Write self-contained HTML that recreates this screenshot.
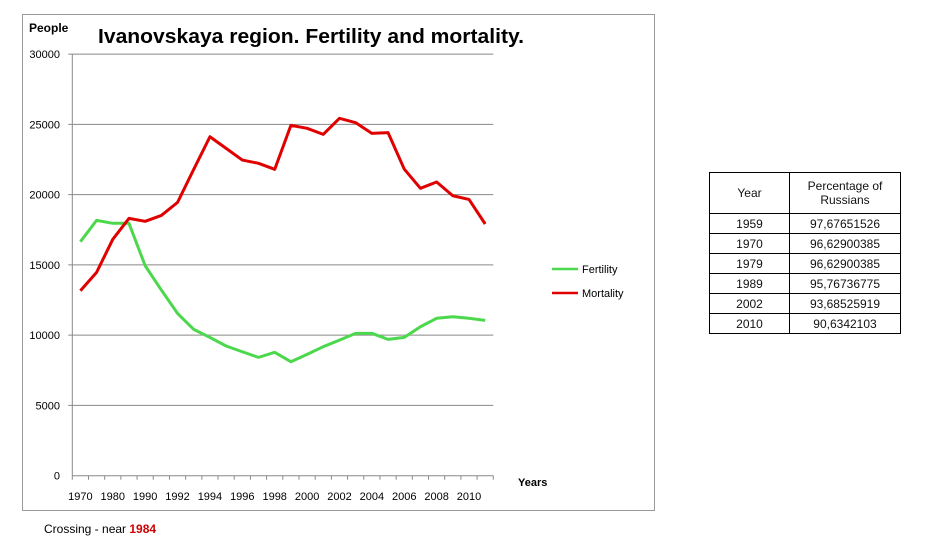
<!DOCTYPE html>
<html><head><meta charset="utf-8"><style>
body{margin:0;width:930px;height:551px;background:#fff;font-family:"Liberation Sans",sans-serif;position:relative;overflow:hidden}
table{position:absolute;left:709px;top:172px;border-collapse:collapse;font-size:12px;color:#111}
td{border:1px solid #000;text-align:center;padding:0;height:19px}
</style></head><body>
<svg width="930" height="551" style="position:absolute;left:0;top:0">
<rect x="22.5" y="14.5" width="632" height="496" fill="none" stroke="#999"/>
<text x="29" y="32" font-size="12" font-weight="bold">People</text>
<text x="98" y="43" font-size="20" font-weight="bold" textLength="426" lengthAdjust="spacingAndGlyphs">Ivanovskaya region. Fertility and mortality.</text>
<text x="518" y="486" font-size="11" font-weight="bold">Years</text>
<g id="grid"></g><g id="axes"></g><g id="series"></g>
<g>
<line x1="552" y1="269" x2="578" y2="269" stroke="#4cd84c" stroke-width="2.5"/>
<text x="582" y="273" font-size="11">Fertility</text>
<line x1="552" y1="293" x2="578" y2="293" stroke="#e00000" stroke-width="2.5"/>
<text x="582" y="297" font-size="11">Mortality</text>
</g>
</svg>
<div style="position:absolute;left:44px;top:522px;font-size:12px">Crossing - near <b style="color:#d00000">1984</b></div>
<table>
<tr><td style="width:79px;height:40px">Year</td><td style="width:110px;height:40px">Percentage of<br>Russians</td></tr>
<tr><td>1959</td><td>97,67651526</td></tr>
<tr><td>1970</td><td>96,62900385</td></tr>
<tr><td>1979</td><td>96,62900385</td></tr>
<tr><td>1989</td><td>95,76736775</td></tr>
<tr><td>2002</td><td>93,68525919</td></tr>
<tr><td>2010</td><td>90,6342103</td></tr>
</table>
<script>
const categories=[1970,1975,1980,1985,1990,1991,1992,1993,1994,1995,1996,1997,1998,1999,2000,2001,2002,2003,2004,2005,2006,2007,2008,2009,2010,2011];
const fertility=[16650,18170,17960,17960,14940,13210,11550,10410,9840,9230,8820,8420,8780,8110,8630,9180,9650,10130,10130,9700,9840,10600,11200,11310,11200,11050];
const mortality=[13160,14470,16820,18310,18100,18520,19450,21800,24120,23290,22460,22230,21800,24930,24720,24290,25430,25120,24360,24410,21820,20450,20900,19920,19660,17910];
const yTicks=[0,5000,10000,15000,20000,25000,30000];
const xLabels=["1970","1980","1990","1992","1994","1996","1998","2000","2002","2004","2006","2008","2010"];
const NS="http://www.w3.org/2000/svg";
const x0=72.3,x1=493.3,y0=475.7,yTop=54.1;
const bw=(x1-x0)/categories.length;
const X=i=>x0+bw*(i+0.5);
const Y=v=>y0-(v/30000)*(y0-yTop);
function mk(t,a,p){const e=document.createElementNS(NS,t);for(const k in a)e.setAttribute(k,a[k]);p.appendChild(e);return e;}
const grid=document.getElementById('grid'),axes=document.getElementById('axes'),ser=document.getElementById('series');
yTicks.forEach(v=>{
 if(v>0){const l=mk('line',{x1:x0-4,x2:x1,y1:Y(v),y2:Y(v),stroke:'#888'},grid);
 
 }
 const t=mk('text',{x:60,y:Y(v)+4,'font-size':11,'text-anchor':'end'},axes);t.textContent=v;
 
 
});
mk('line',{x1:x0,x2:x0,y1:yTop,y2:y0,stroke:'#888'},axes);
mk('line',{x1:x0,x2:x1,y1:y0,y2:y0,stroke:'#888'},axes);
for(let i=0;i<=categories.length;i++)mk('line',{x1:x0+bw*i,x2:x0+bw*i,y1:y0,y2:y0+4,stroke:'#888'},axes);
xLabels.forEach((s,j)=>{const t=mk('text',{x:X(j*2),y:500,'font-size':11,'text-anchor':'middle'},axes);t.textContent=s;
 
 });
[[fertility,'#4cd84c','fertility-line'],[mortality,'#e00000','mortality-line']].forEach(([d,c,n])=>{
 const p=mk('polyline',{points:d.map((v,i)=>X(i)+','+Y(v)).join(' '),fill:'none',stroke:c,'stroke-width':3,'stroke-linejoin':'round'},ser);
 
 
});
</script>
</body></html>
